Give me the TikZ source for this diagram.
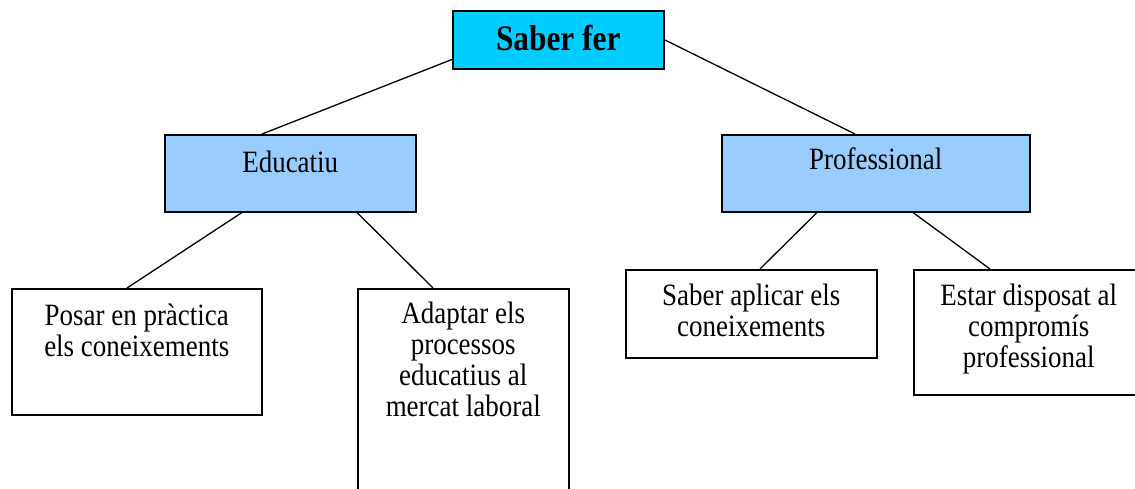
\documentclass[tikz,border=0pt]{standalone}
\usepackage{fontspec}
\setmainfont{Liberation Serif}[FakeStretch=0.87]
\usetikzlibrary{positioning}

\definecolor{rootcyan}{HTML}{00CCFF}
\definecolor{areablue}{HTML}{99CCFF}

% width, height, first baseline, text
\newcommand{\boxtxt}[4]{\parbox[c][#2][t]{#1}{\centering\rule{0pt}{#3}#4}}

\begin{document}
\begin{tikzpicture}[x=1pt,y=-1pt,line width=1.3pt,
  cellbox/.style={draw,line width=1.5pt,inner sep=0pt,anchor=north west,
    font=\fontsize{31}{31}\selectfont},
  rootbox/.style={cellbox,fill=rootcyan,font=\bfseries\fontsize{36}{36}\selectfont},
  areabox/.style={cellbox,fill=areablue},
  itembox/.style={cellbox,fill=white}]
 \clip (0,0) rectangle (1135,488);

 \node[rootbox] (saber) at (452,10)  {\boxtxt{211pt}{58pt}{40pt}{Saber fer}};

 \node[areabox] (edu)   at (164,134) {\boxtxt{251pt}{77pt}{38pt}{Educatiu}};
 \node[areabox] (prof)  at (721,134) {\boxtxt{308pt}{77pt}{35pt}{Professional}};

 \node[itembox] (posar) at (11,288)  {\boxtxt{250pt}{126pt}{37pt}{Posar en pràctica\\els coneixements}};
 \node[itembox] (adapt) at (357,288) {\boxtxt{211pt}{230pt}{35pt}{Adaptar els\\processos\\educatius al\\mercat laboral}};
 \node[itembox] (aplic) at (625,269) {\boxtxt{251pt}{88pt}{36pt}{Saber aplicar els\\coneixements}};
 \node[itembox] (estar) at (913,269) {\boxtxt{230pt}{125pt}{36pt}{Estar disposat al\\compromís\\professional}};

 \path ([yshift=10pt]saber.south west) edge ([xshift=98pt]edu.north west)
       (saber.east)                    edge ([xshift=134pt]prof.north west)
       ([xshift=78pt]edu.south west)   edge ([xshift=116pt]posar.north west)
       ([xshift=193pt]edu.south west)  edge ([xshift=76pt]adapt.north west)
       ([xshift=96pt]prof.south west)  edge ([xshift=135pt]aplic.north west)
       ([xshift=192pt]prof.south west) edge ([xshift=77pt]estar.north west);
\end{tikzpicture}
\end{document}
